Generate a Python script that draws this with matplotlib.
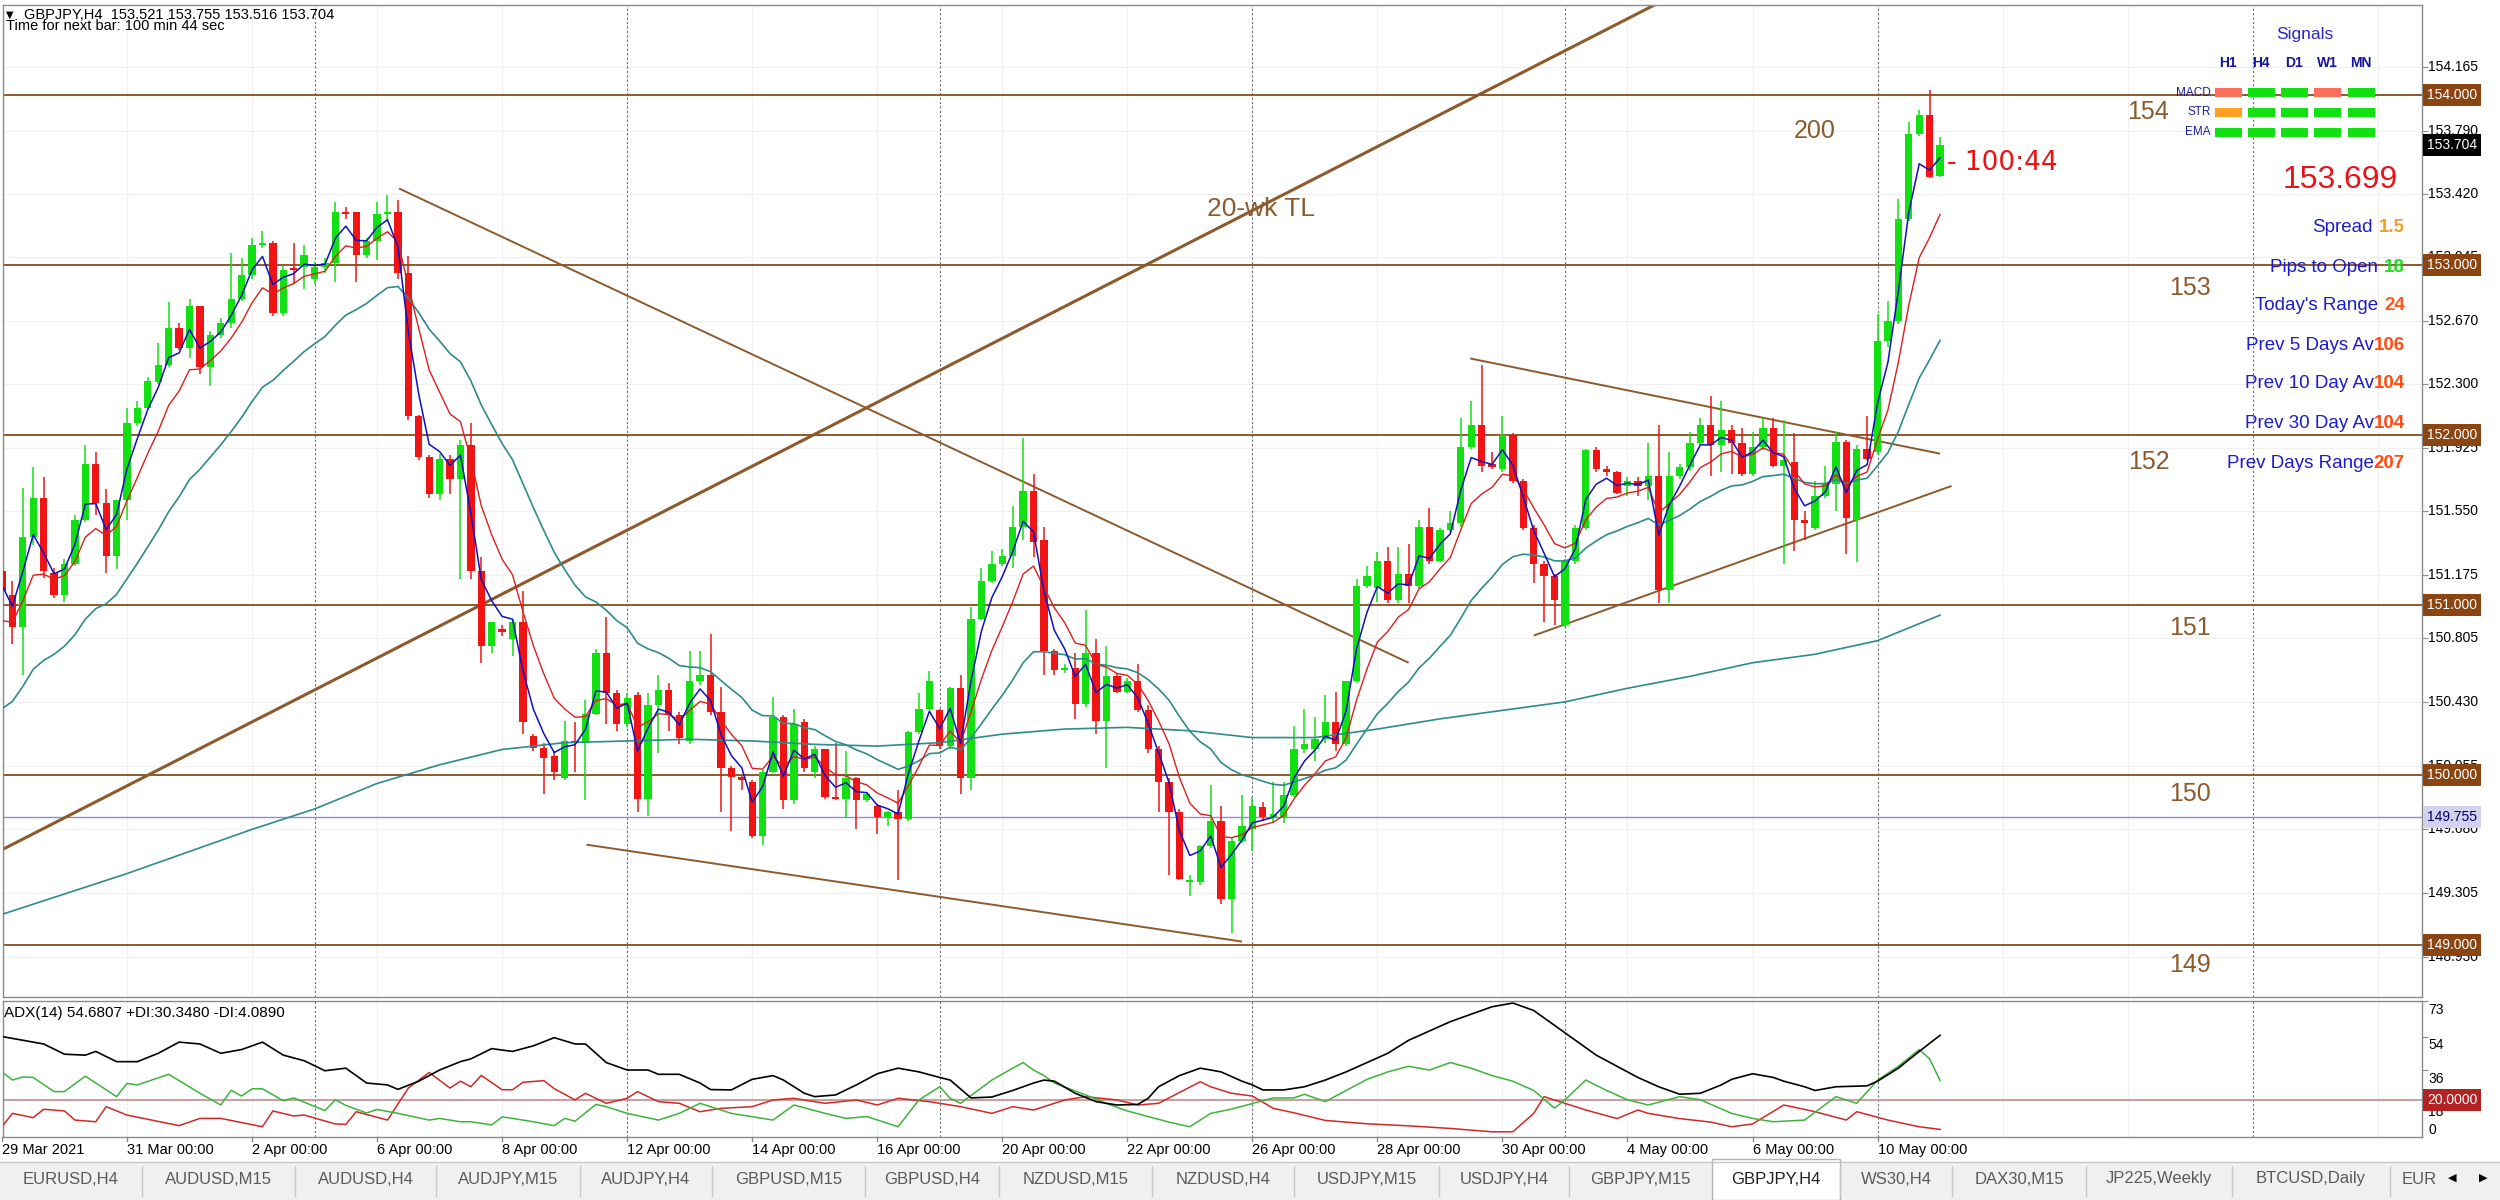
import matplotlib
matplotlib.use('Agg')
import matplotlib.pyplot as plt
import numpy as np
from matplotlib.patches import Rectangle
from matplotlib.transforms import blended_transform_factory as blend

plt.rcParams['font.family'] = ['Liberation Sans', 'DejaVu Sans']

# ---------------- data (GBPJPY H4, 29 Mar - 10 May 2021) ----------------
opens = [151.20, 151.06, 150.87, 151.40, 151.63, 151.19, 151.06, 151.24, 151.50, 151.83,
         151.60, 151.29, 151.62, 152.07, 152.16, 152.31, 152.41, 152.63, 152.51, 152.76,
         152.40, 152.59, 152.66, 152.80, 152.94, 153.12, 153.13, 152.72, 152.98, 152.99,
         152.92, 152.99, 153.01, 153.31, 153.31, 153.06, 153.14, 153.30, 153.31, 152.95,
         152.11, 151.87, 151.65, 151.86, 151.74, 151.94, 151.20, 150.76, 150.86, 150.80,
         150.90, 150.23, 150.16, 150.11, 149.98, 150.20, 150.19, 150.36, 150.72, 150.48,
         150.30, 150.47, 149.86, 150.41, 150.50, 150.35, 150.20, 150.55, 150.59, 150.37,
         150.04, 149.99, 149.96, 149.64, 150.02, 150.34, 149.85, 150.31, 150.02, 150.15,
         149.87, 149.86, 149.98, 149.85, 149.82, 149.75, 149.78, 149.74, 150.25, 150.39,
         150.38, 150.17, 150.51, 149.98, 150.92, 151.14, 151.24, 151.29, 151.46, 151.67,
         151.38, 150.73, 150.62, 150.63, 150.42, 150.72, 150.32, 150.58, 150.49, 150.55,
         150.38, 150.15, 149.96, 149.78, 149.37, 149.37, 149.58, 149.73, 149.27, 149.61,
         149.68, 149.81, 149.75, 149.75, 149.88, 150.15, 150.15, 150.21, 150.31, 150.18,
         150.55, 151.11, 151.10, 151.26, 151.03, 151.18, 151.11, 151.46, 151.26, 151.44,
         151.48, 151.93, 152.06, 151.83, 151.80, 152.00, 151.73, 151.45, 151.24, 151.17,
         150.88, 151.26, 151.45, 151.91, 151.80, 151.78, 151.70, 151.73, 151.70, 151.76,
         151.09, 151.76, 151.81, 151.95, 152.06, 151.94, 152.03, 151.95, 151.77, 151.93,
         152.04, 151.82, 151.84, 151.50, 151.45, 151.64, 151.71, 151.96, 151.50, 151.92,
         151.90, 152.55, 152.67, 153.27, 153.77, 153.88, 153.521]
highs = [151.25, 151.14, 151.69, 151.81, 151.75, 151.22, 151.27, 151.53, 151.94, 151.90,
         151.68, 151.62, 152.16, 152.20, 152.34, 152.54, 152.78, 152.66, 152.80, 152.76,
         152.61, 152.69, 153.07, 153.04, 153.16, 153.20, 153.14, 153.00, 153.13, 153.12,
         153.02, 153.04, 153.37, 153.34, 153.31, 153.16, 153.37, 153.41, 153.38, 153.05,
         152.12, 151.88, 151.89, 151.88, 151.97, 152.07, 151.28, 150.90, 150.88, 150.92,
         151.08, 150.24, 150.19, 150.14, 150.32, 150.31, 150.44, 150.74, 150.93, 150.50,
         150.48, 150.49, 150.48, 150.59, 150.54, 150.37, 150.73, 150.73, 150.83, 150.52,
         150.05, 150.00, 149.97, 150.03, 150.46, 150.35, 150.39, 150.33, 150.17, 150.15,
         150.19, 150.14, 149.99, 149.90, 149.83, 149.79, 149.91, 150.26, 150.48, 150.61,
         150.39, 150.52, 150.59, 150.99, 151.22, 151.32, 151.33, 151.58, 151.98, 151.77,
         151.46, 150.74, 150.65, 150.72, 150.97, 150.80, 150.76, 150.60, 150.57, 150.65,
         150.41, 150.17, 149.98, 149.80, 149.41, 149.59, 149.94, 149.82, 149.63, 149.88,
         149.87, 149.84, 149.96, 149.96, 150.29, 150.39, 150.34, 150.47, 150.49, 150.55,
         151.15, 151.23, 151.31, 151.34, 151.34, 151.36, 151.50, 151.57, 151.45, 151.55,
         152.10, 152.20, 152.41, 151.90, 152.11, 152.01, 151.74, 151.47, 151.26, 151.18,
         151.27, 151.47, 151.92, 151.93, 151.82, 151.79, 151.75, 151.75, 151.95, 152.06,
         151.90, 151.83, 152.02, 152.10, 152.23, 152.20, 152.06, 152.04, 152.02, 152.10,
         152.10, 152.09, 152.01, 151.55, 151.73, 151.82, 152.02, 151.97, 151.94, 152.11,
         152.71, 152.79, 153.39, 153.84, 153.91, 154.03, 153.755]
lows = [151.00, 150.77, 150.59, 151.35, 151.16, 151.04, 151.02, 151.23, 151.49, 151.53,
        151.19, 151.21, 151.50, 152.05, 152.15, 152.30, 152.40, 152.50, 152.45, 152.36,
        152.29, 152.57, 152.63, 152.79, 152.92, 153.10, 152.70, 152.70, 152.89, 152.86,
        152.89, 152.95, 152.90, 153.27, 152.90, 153.04, 153.03, 153.26, 152.92, 152.09,
        151.85, 151.63, 151.62, 151.65, 151.15, 151.15, 150.66, 150.72, 150.82, 150.70,
        150.24, 150.14, 149.89, 149.97, 149.97, 150.02, 149.85, 150.35, 150.30, 150.26,
        150.28, 149.78, 149.76, 150.13, 150.26, 150.18, 150.18, 150.53, 150.35, 149.78,
        149.67, 149.91, 149.63, 149.59, 150.01, 149.80, 149.83, 150.02, 149.98, 149.86,
        149.85, 149.75, 149.68, 149.84, 149.65, 149.70, 149.38, 149.73, 150.24, 150.38,
        150.15, 150.15, 149.89, 149.91, 150.91, 151.13, 151.23, 151.22, 151.38, 151.28,
        150.59, 150.59, 150.60, 150.33, 150.40, 150.24, 150.04, 150.48, 150.48, 150.37,
        150.13, 149.78, 149.41, 149.38, 149.29, 149.35, 149.57, 149.24, 149.07, 149.60,
        149.55, 149.73, 149.72, 149.72, 149.87, 150.13, 150.08, 150.19, 150.14, 150.17,
        150.54, 151.10, 151.02, 151.01, 151.01, 151.01, 151.10, 151.24, 151.25, 151.43,
        151.46, 151.92, 151.78, 151.80, 151.78, 151.72, 151.44, 151.13, 150.90, 150.88,
        150.87, 151.24, 151.44, 151.78, 151.76, 151.65, 151.64, 151.64, 151.62, 151.01,
        151.01, 151.74, 151.79, 151.94, 151.76, 151.78, 151.77, 151.76, 151.76, 151.91,
        151.81, 151.24, 151.32, 151.38, 151.44, 151.63, 151.55, 151.30, 151.25, 151.85,
        151.88, 152.52, 152.65, 153.26, 153.76, 153.51, 153.516]
closes = [151.08, 150.87, 151.40, 151.63, 151.20, 151.06, 151.24, 151.50, 151.83, 151.60,
          151.29, 151.62, 152.07, 152.16, 152.32, 152.41, 152.63, 152.51, 152.76, 152.40,
          152.59, 152.66, 152.80, 152.94, 153.12, 153.13, 152.72, 152.97, 152.97, 153.06,
          152.99, 153.01, 153.31, 153.30, 153.06, 153.14, 153.30, 153.31, 152.95, 152.11,
          151.87, 151.65, 151.86, 151.74, 151.94, 151.20, 150.76, 150.90, 150.84, 150.90,
          150.31, 150.16, 150.10, 150.02, 150.20, 150.19, 150.36, 150.72, 150.48, 150.30,
          150.45, 149.86, 150.41, 150.50, 150.35, 150.22, 150.55, 150.59, 150.37, 150.04,
          149.99, 149.97, 149.64, 150.02, 150.34, 149.85, 150.30, 150.04, 150.15, 149.87,
          149.86, 149.98, 149.85, 149.89, 149.75, 149.78, 149.74, 150.25, 150.39, 150.55,
          150.17, 150.51, 149.98, 150.92, 151.14, 151.24, 151.29, 151.46, 151.67, 151.37,
          150.73, 150.62, 150.63, 150.42, 150.72, 150.32, 150.58, 150.49, 150.55, 150.38,
          150.15, 149.96, 149.78, 149.39, 149.38, 149.58, 149.73, 149.27, 149.61, 149.70,
          149.82, 149.75, 149.77, 149.88, 150.15, 150.18, 150.21, 150.31, 150.18, 150.55,
          151.11, 151.17, 151.26, 151.03, 151.18, 151.11, 151.46, 151.26, 151.44, 151.48,
          151.93, 152.06, 151.82, 151.81, 152.00, 151.73, 151.45, 151.24, 151.17, 151.03,
          151.26, 151.45, 151.91, 151.80, 151.78, 151.66, 151.73, 151.70, 151.76, 151.09,
          151.76, 151.81, 151.95, 152.06, 151.94, 152.03, 151.95, 151.77, 151.93, 152.04,
          151.82, 151.85, 151.50, 151.48, 151.64, 151.72, 151.96, 151.51, 151.92, 151.86,
          152.55, 152.67, 153.27, 153.77, 153.88, 153.52, 153.704]

# moving averages on the chart: EMA periods and their values just before bar 0
ema_periods = [3, 7, 21]
ema_seeds = [151.15, 150.85, 150.32]
# slow moving average (bar, price)
ma_slow = [(0, 149.18), (6, 149.30), (12, 149.42), (18, 149.55), (24, 149.68), (30, 149.80),
           (36, 149.95), (42, 150.06), (48, 150.15), (54, 150.19), (60, 150.20), (66, 150.21),
           (72, 150.20), (78, 150.18), (84, 150.17), (90, 150.19), (96, 150.24), (102, 150.27),
           (108, 150.28), (114, 150.26), (120, 150.22), (126, 150.22), (132, 150.27), (138, 150.33),
           (144, 150.38), (150, 150.43), (156, 150.51), (162, 150.58), (168, 150.66), (174, 150.71),
           (180, 150.79), (186, 150.94)]

levels = [154, 153, 152, 151, 150, 149]
level_text_y = [153.90, 152.865, 151.84, 150.865, 149.89, 148.88]
ref_price = 149.755
last_price = 153.704
price_ticks = [154.165, 153.790, 153.420, 153.045, 152.670, 152.300, 151.925, 151.550,
               151.175, 150.805, 150.430, 150.055, 149.680, 149.305, 148.930]

# drawn trend lines (bar, price)
tl_20wk = [(0, 149.56), (165, 154.73)]
tl_down = [(38.1, 153.45), (135.0, 150.66)]
tl_low = [(56.1, 149.59), (119.0, 149.02)]
tl_tri_top = [(140.9, 152.45), (186.0, 151.89)]
tl_tri_bot = [(147.0, 150.82), (187.1, 151.70)]

# ADX(14) panel (bar, value)
adx_main = [(0, 54), (2, 52), (4, 50), (6, 44.5), (8, 44), (9, 46), (11, 40.5), (13, 40.5), (15, 45),
            (17, 51), (19, 50), (21, 45), (23, 47), (25, 51), (27, 44), (29, 41), (31, 35.6), (33, 37),
            (35, 29), (37, 28), (38, 25.6), (40, 30), (42, 36), (44, 40.5), (45, 42), (47, 47.5),
            (49, 46), (51, 49), (53, 53.4), (55, 50), (56, 50), (58, 40), (60, 36), (62, 36), (63, 33.7),
            (65, 33.7), (67, 29), (68, 25.5), (70, 25.3), (72, 31), (74, 33), (75, 30.6), (77, 23.5),
            (78, 21.7), (80, 22.6), (82, 28), (84, 34), (86, 37), (88, 35), (90, 32), (91, 30.6),
            (93, 21), (95, 21.5), (97, 25), (99, 29), (100, 30.6), (101, 30), (103, 23.5), (105, 19),
            (107, 17.2), (109, 17.5), (110, 20.8), (111, 27), (113, 33), (115, 37), (117, 35),
            (119, 30), (120, 28), (121, 25.3), (123, 25.3), (125, 27), (127, 30.6), (129, 35),
            (131, 40), (133, 45), (135, 52), (137, 57), (139, 62), (141, 66), (143, 70), (145, 72),
            (147, 68), (149, 60), (151, 52), (153, 44), (155, 38), (157, 32), (159, 27), (161, 23),
            (163, 23.5), (165, 28), (166, 31), (168, 34), (170, 32), (171, 30), (173, 27), (174, 25),
            (176, 27), (179, 27.5), (180, 30), (182, 37), (184, 46), (186, 54.68)]
plus_di = [(0, 35), (1, 30.6), (2, 32.3), (3, 32), (5, 24.4), (6, 24.4), (8, 32.7), (11, 21.7),
           (12, 28.8), (13, 28), (16, 33.7), (19, 23.5), (21, 17.2), (22, 25.1), (23, 22), (24, 25.9),
           (25, 25.9), (27, 19.5), (28, 21), (31, 14.2), (32, 20), (33, 17), (35, 12.9), (36, 14.8),
           (38, 12.7), (41, 9.1), (42, 10), (44, 8.2), (45, 8.2), (47, 6.5), (48, 10.8), (49, 10),
           (51, 8.2), (53, 6.1), (54, 10), (55, 8.5), (56, 13), (57, 17.5), (58, 16.3), (60, 12.7),
           (63, 9.1), (65, 12.7), (67, 18.1), (70, 12.7), (74, 9.1), (76, 17.2), (79, 12.7), (81, 10),
           (83, 11), (86, 5.5), (88, 19.9), (90, 27), (91, 20.8), (92, 18.1), (95, 30.6), (97, 37),
           (98, 40), (99, 36), (100, 33), (101, 29), (104, 22.6), (106, 18), (108, 14), (110, 11),
           (112, 8), (114, 5.5), (116, 12.7), (118, 15), (120, 18), (122, 21), (124, 21), (125, 23),
           (127, 19), (129, 25), (131, 31), (133, 35), (135, 38), (137, 36), (139, 40), (141, 37),
           (143, 33), (145, 30), (147, 25), (149, 15.5), (150, 20), (152, 30.6), (154, 25), (156, 20),
           (158, 17.2), (161, 21.7), (163, 20), (166, 12.7), (168, 10), (170, 8.2), (173, 9.1),
           (176, 21.7), (178, 18.1), (180, 30.6), (182, 38), (184, 47), (185, 42), (186, 30.35)]
minus_di = [(0, 5.5), (1, 12.7), (3, 10.4), (4, 14.9), (6, 14), (7, 9.1), (9, 8.2), (10, 16.3),
            (12, 11.8), (17, 6.1), (19, 10), (21, 10), (25, 5.5), (26, 14), (28, 11.3), (29, 11.8),
            (32, 7), (33, 6.8), (34, 13.6), (37, 9.1), (39, 26.3), (41, 34.7), (43, 26.3), (44, 30),
            (45, 27), (46, 33.1), (48, 25.4), (49, 25.4), (50, 29.4), (52, 30.3), (53, 26), (55, 19.9),
            (56, 23.5), (58, 18.1), (60, 20.8), (61, 24.4), (63, 19), (65, 18.1), (67, 13.6), (69, 15.4),
            (72, 16.3), (74, 19.9), (76, 20.8), (77, 19.9), (79, 18.1), (82, 19.9), (84, 17.2), (86, 20.8),
            (89, 19), (92, 16.3), (95, 12.7), (97, 16.3), (99, 14.5), (102, 19.9), (104, 21.7), (107, 19.9),
            (109, 17.2), (111, 18.1), (115, 29.7), (116, 27), (118, 23.5), (120, 22), (122, 15.4),
            (124, 13), (127, 8.9), (131, 7.1), (135, 6), (139, 4.6), (143, 2.8), (145, 2.8), (147, 12.7),
            (148, 21.7), (152, 14.5), (155, 9.9), (157, 14.5), (158, 12.7), (161, 9.9), (164, 8),
            (166, 5.5), (168, 7), (171, 17.2), (174, 13.6), (177, 9.1), (178, 13.6), (181, 9.1),
            (184, 5.5), (186, 4.09)]
adx_ticks = [73, 54, 36, 18]

date_bars = [0, 12, 24, 36, 48, 60, 72, 84, 96, 108, 120, 132, 144, 156, 168, 180]
date_labels = ['29 Mar 2021', '31 Mar 00:00', '2 Apr 00:00', '6 Apr 00:00', '8 Apr 00:00',
               '12 Apr 00:00', '14 Apr 00:00', '16 Apr 00:00', '20 Apr 00:00', '22 Apr 00:00',
               '26 Apr 00:00', '28 Apr 00:00', '30 Apr 00:00', '4 May 00:00', '6 May 00:00',
               '10 May 00:00']
week_starts = [30, 60, 90, 120, 150, 180, 216]

signal_cols = ['H1', 'H4', 'D1', 'W1', 'MN']
signal_rows = ['MACD', 'STR', 'EMA']
signal_state = [['down', 'up', 'up', 'down', 'up'],
                ['flat', 'up', 'up', 'up', 'up'],
                ['up', 'up', 'up', 'up', 'up']]
info_labels = ['Spread', 'Pips to Open', "Today's Range", 'Prev 5 Days Av',
               'Prev 10 Day Av', 'Prev 30 Day Av', 'Prev Days Range']
info_values = ['1.5', '18', '24', '106', '104', '104', '207']

tabs = ['EURUSD,H4', 'AUDUSD,M15', 'AUDUSD,H4', 'AUDJPY,M15', 'AUDJPY,H4', 'GBPUSD,M15',
        'GBPUSD,H4', 'NZDUSD,M15', 'NZDUSD,H4', 'USDJPY,M15', 'USDJPY,H4', 'GBPJPY,M15',
        'GBPJPY,H4', 'WS30,H4', 'DAX30,M15', 'JP225,Weekly', 'BTCUSD,Daily', 'EUR']
active_tab = 'GBPJPY,H4'

# ---------------- styles ----------------
BULL, BEAR = '#12e012', '#f01414'
BROWN, BOX_BROWN = '#8c5a2d', '#8b4513'
TEAL = '#2e8b8b'
NAVY = '#1c1cc8'
SIG_COL = {'up': '#12e012', 'down': '#fa6e5a', 'flat': '#ffa020'}
INFO_COL = ['#f0a028', '#28dc28', '#ff5a1e', '#ff4c14', '#ff4c14', '#ff4c14', '#ff4c14']

W, H = 2500, 1200
fig = plt.figure(figsize=(25, 12), dpi=100, facecolor='white')


def fbox(x0, y0, x1, y1):
    return [x0 / W, 1 - y1 / H, (x1 - x0) / W, (y1 - y0) / H]


ax = fig.add_axes(fbox(3, 5, 2422, 997))
ad = fig.add_axes(fbox(3, 1001, 2422, 1137))
XL = (0.1, 232.25)

for a in (ax, ad):
    a.set_xlim(*XL)
    for s in a.spines.values():
        s.set_color('#8a8a8a')
        s.set_linewidth(1.0)
    a.tick_params(axis='x', bottom=False, labelbottom=False)
    a.yaxis.tick_right()
    a.tick_params(axis='y', length=4, color='#8a8a8a', labelright=False, labelleft=False)
    for b in week_starts:
        a.axvline(b, color='#6e6e6e', lw=0.8, ls=(0, (2, 2)), zorder=1)
    for b in date_bars + [192, 204, 228]:
        a.axvline(b, color='#f0f0f0', lw=0.8, zorder=0)

ax.set_ylim(148.694, 154.529)
ax.set_yticks(price_ticks)
for p in price_ticks:
    ax.axhline(p, color='#f0f0f0', lw=0.8, zorder=0)

# candles
x = np.arange(len(closes))
o, h, l, c = (np.array(v) for v in (opens, highs, lows, closes))
col = np.where(c >= o, BULL, BEAR)
ax.vlines(x, l, h, colors=col, lw=1.1, zorder=3)
body = np.maximum(np.abs(c - o), 0.009)
bottom = np.minimum(o, c) - (body - np.abs(c - o)) / 2
ax.bar(x, body, bottom=bottom, width=0.7, color=col, linewidth=0, zorder=3.1)


def ema(values, period, seed):
    k = 2.0 / (period + 1)
    out, prev = [], seed
    for v in values:
        prev = prev + k * (v - prev)
        out.append(prev)
    return out


ax.plot(x, ema(closes, ema_periods[2], ema_seeds[2]), color=TEAL, lw=1.2, zorder=4)
ax.plot(x, ema(closes, ema_periods[1], ema_seeds[1]), color='#dc1e1e', lw=1.0, zorder=4.1)
ax.plot(x, ema(closes, ema_periods[0], ema_seeds[0]), color='#1010c0', lw=1.1, zorder=4.2)
ax.plot([p[0] for p in ma_slow], [p[1] for p in ma_slow], color=TEAL, lw=1.2, zorder=4)

# levels and trend lines
for lv in levels:
    ax.axhline(lv, color=BROWN, lw=1.4, zorder=2)
ax.axhline(ref_price, color='#8c8cd2', lw=1.0, zorder=2)
for tl, lw in ((tl_20wk, 2.2), (tl_down, 1.4), (tl_low, 1.4), (tl_tri_top, 1.4), (tl_tri_bot, 1.4)):
    ax.plot([tl[0][0], tl[1][0]], [tl[0][1], tl[1][1]], color=BROWN, lw=lw, zorder=2.5,
            solid_capstyle='butt')

ax.text(115.6, 153.33, '20-wk TL', color=BROWN, fontsize=19, va='center', ha='left', zorder=5)
ax.text(174.0, 153.79, '200', color=BROWN, fontsize=18, va='center', ha='center', zorder=5)
for lv, ty_, bx in zip(levels, level_text_y, [206.0, 210.0, 206.0, 210.0, 210.0, 210.0]):
    ax.text(bx, ty_, str(lv), color=BROWN, fontsize=18, va='center', ha='center', zorder=5)
ax.text(186.7, 153.60, '- 100:44', color='#e61414', fontsize=19, va='center', ha='left',
        family=['DejaVu Sans'], zorder=5)

# right price scale
ty = blend(ax.transAxes, ax.transData)
LX = (2428 - 3) / 2419
BX = (2427 - 3) / 2419
for p in price_ticks:
    ax.text(LX, p, f'{p:.3f}', transform=ty, fontsize=10, va='center', ha='left',
            clip_on=False, zorder=6)
for lv in levels:
    ax.text(BX, lv, f'{lv:.3f}', transform=ty, fontsize=10, va='center', ha='left', color='white',
            clip_on=False, zorder=7,
            bbox=dict(boxstyle='square,pad=0.28', fc=BOX_BROWN, ec='none'))
ax.text(BX, ref_price, f'{ref_price:.3f}', transform=ty, fontsize=10, va='center', ha='left',
        color='#000060', clip_on=False, zorder=7,
        bbox=dict(boxstyle='square,pad=0.28', fc='#d2d2f0', ec='none'))
ax.text(BX, last_price, f'{last_price:.3f}', transform=ty, fontsize=10, va='center', ha='left',
        color='white', clip_on=False, zorder=8,
        bbox=dict(boxstyle='square,pad=0.28', fc='black', ec='none'))

# ADX panel
ad.set_ylim(0, 73.1)
ad.set_yticks(adx_ticks)
ad.axhline(20, color='#c8a0a0', lw=1.5, zorder=1.5)
ad.plot([p[0] for p in minus_di], [p[1] for p in minus_di], color='#d22828', lw=1.1, zorder=3)
ad.plot([p[0] for p in plus_di], [p[1] for p in plus_di], color='#3cb43c', lw=1.1, zorder=3.1)
ad.plot([p[0] for p in adx_main], [p[1] for p in adx_main], color='black', lw=1.2, zorder=3.2)
ad.text(0.0005, 0.91, 'ADX(14) 54.6807 +DI:30.3480 -DI:4.0890', transform=ad.transAxes,
        fontsize=11, va='center', ha='left')
tya = blend(ad.transAxes, ad.transData)
for t in adx_ticks:
    ad.text(LX, t - 0.8, str(t), transform=tya, fontsize=10, va='top', ha='left', clip_on=False)
ad.text(LX, 0, '0', transform=tya, fontsize=10, va='bottom', ha='left', clip_on=False)
ad.text(BX, 20, '20.0000', transform=tya, fontsize=10, va='center', ha='left', color='white',
        clip_on=False, zorder=7, bbox=dict(boxstyle='square,pad=0.28', fc='#b42323', ec='none'))

# date axis
td = blend(ad.transData, ad.transAxes)
for b, lab in zip(date_bars, date_labels):
    ad.plot([b, b], [0, -0.03], color='#8a8a8a', lw=1, transform=td, clip_on=False)
    ad.text(b, -0.095, lab, transform=td, fontsize=10.5, va='center', ha='left', clip_on=False)

# ---------------- overlay: header, signals panel, tabs ----------------
ov = fig.add_axes([0, 0, 1, 1])
ov.set_xlim(0, W)
ov.set_ylim(H, 0)
ov.axis('off')
ov.patch.set_alpha(0)
ov.set_zorder(10)

ov.text(6, 15, '\u25bc', fontsize=7, va='center', ha='left', family=['DejaVu Sans'])
ov.text(24, 15, 'GBPJPY,H4  153.521 153.755 153.516 153.704', fontsize=10.5, va='center', ha='left')
ov.text(6, 26, 'Time for next bar: 100 min 44 sec', fontsize=10.5, va='center', ha='left')

ov.text(2305, 35, 'Signals', fontsize=12.5, color='#2828c8', va='center', ha='center')
col_x = [2228, 2261, 2294, 2327, 2361]
row_y = [92.5, 112, 132]
for cx, name in zip(col_x, signal_cols):
    ov.text(cx, 63, name, fontsize=10, fontweight='bold', color='#1414a0', va='center', ha='center')
for ry, name, states in zip(row_y, signal_rows, signal_state):
    ov.text(2211, ry, name, fontsize=8.5, color='#1e1e96', va='center', ha='right')
    for cx, st in zip(col_x, states):
        ov.add_patch(Rectangle((cx - 13, ry - 4.5), 26.5, 9, fc=SIG_COL[st], ec='none'))

ov.text(2340, 180, '153.699', fontsize=23, color='#e8141c', va='center', ha='center')

rend = fig.canvas.get_renderer()
info_y = [228, 267, 305, 345, 384, 423, 463]
for i, (lab, val, yy) in enumerate(zip(info_labels, info_values, info_y)):
    tv = ov.text(2405, yy, val, fontsize=13.5, fontweight='bold', color=INFO_COL[i],
                 va='center', ha='right')
    x0 = tv.get_window_extent(rend).x0
    gap = 6 if i < 3 else 0
    ov.text(x0 - gap, yy, lab, fontsize=13.5, color=NAVY, va='center', ha='right')

# tab bar
edges = [0, 142, 295, 436, 580, 712, 865, 999, 1152, 1294, 1439, 1569, 1712, 1840, 1952,
         2086, 2232, 2390, 2445]
ov.add_patch(Rectangle((0, 1162), W, 38, fc='#f0f0f0', ec='none'))
ov.plot([0, W], [1162, 1162], color='#c8c8c8', lw=1)
for i, name in enumerate(tabs):
    xa, xb = edges[i], edges[i + 1]
    if name == active_tab:
        ov.add_patch(Rectangle((xa, 1159), xb - xa, 41, fc='white', ec='#b4b4b4', lw=1))
        tc = '#202020'
    else:
        tc = '#5a5a5a'
        if i > 0:
            ov.plot([xa, xa], [1166, 1196], color='#c8c8c8', lw=1)
    if name == 'EUR':
        ov.text(xa + 12, 1179, name, fontsize=12, color=tc, va='center', ha='left')
    else:
        ov.text((xa + xb) / 2, 1179, name, fontsize=12, color=tc, va='center', ha='center')
ov.add_patch(Rectangle((2440, 1163), 60, 37, fc='#f0f0f0', ec='none'))
ov.text(2452, 1178, '\u25c0', fontsize=8, va='center', ha='center', family=['DejaVu Sans'])
ov.text(2483, 1178, '\u25b6', fontsize=8, va='center', ha='center', family=['DejaVu Sans'])

fig.savefig('out.png', dpi=100)
